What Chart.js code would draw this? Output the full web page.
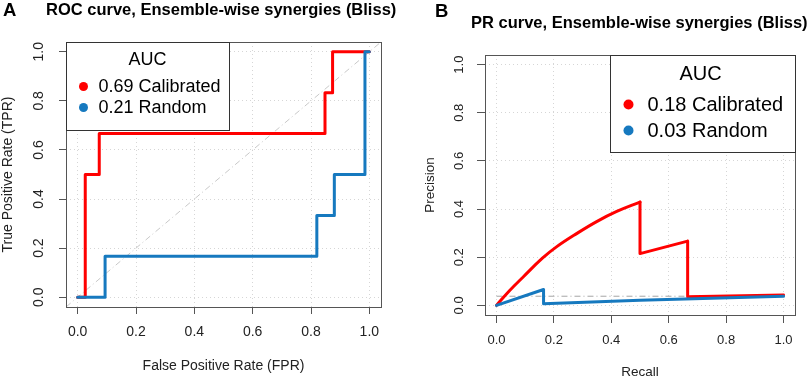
<!DOCTYPE html>
<html>
<head>
<meta charset="utf-8">
<script src="https://cdn.jsdelivr.net/npm/chart.js@4.4.1/dist/chart.umd.min.js"></script>
<style>
  html, body { margin: 0; padding: 0; background: #fff; }
  #wrap { position: relative; width: 809px; height: 380px; overflow: hidden; font-family: "Liberation Sans", Arial, sans-serif; color: #000; }
  canvas { position: absolute; top: 0; }
  .letter { position: absolute; font-weight: bold; font-size: 18.5px; line-height: 19px; }
  .title { position: absolute; font-weight: bold; font-size: 16.5px; line-height: 19px; white-space: nowrap; }
</style>
</head>
<body>
<div id="wrap">
  <canvas id="rocChart" width="405" height="380" style="left:0"></canvas>
  <canvas id="prChart" width="404" height="380" style="left:405px"></canvas>
  <div class="letter" style="left:3px;top:0">A</div>
  <div class="title" style="left:46px;top:0">ROC curve, Ensemble-wise synergies (Bliss)</div>
  <div class="letter" style="left:435px;top:1px">B</div>
  <div class="title" style="left:471px;top:13px">PR curve, Ensemble-wise synergies (Bliss)</div>
</div>
<script>
const FONT = '"Liberation Sans", Arial, sans-serif';
const RED = '#FF0000';
const BLUE = '#1679BF';

// axis ticks (same on both panels)
const tickValues = [0, 0.2, 0.4, 0.6, 0.8, 1.0];
const axisMin = -0.04;
const axisMax = 1.04;

// ROC curve, calibrated
const rocCalFpr = [0, 0.026, 0.026, 0.074, 0.074, 0.848, 0.848, 0.874, 0.874, 1.0];
const rocCalTpr = [0, 0, 0.5, 0.5, 0.667, 0.667, 0.833, 0.833, 1.0, 1.0];
// ROC curve, random
const rocRandFpr = [0, 0.094, 0.094, 0.82, 0.82, 0.88, 0.88, 0.985, 0.985, 1.0];
const rocRandTpr = [0, 0, 0.167, 0.167, 0.333, 0.333, 0.5, 0.5, 1.0, 1.0];
// diagonal reference
const rocDiagX = [-0.04, 1.04];
const rocDiagY = [-0.04, 1.04];

// PR curve, calibrated (curved part, then straight part)
const prCalCurveRecall = [0, 0.046, 0.093, 0.160, 0.209, 0.279, 0.349, 0.419, 0.5];
const prCalCurvePrecision = [0, 0.062, 0.118, 0.196, 0.243, 0.298, 0.348, 0.390, 0.429];
const prCalRestRecall = [0.5, 0.5, 0.666, 0.666, 1.0];
const prCalRestPrecision = [0.429, 0.215, 0.267, 0.036, 0.043];
// PR curve, random
const prRandRecall = [0, 0.164, 0.164, 0.5, 1.0];
const prRandPrecision = [0, 0.066, 0.007, 0.021, 0.038];
// baseline reference
const prBaseX = [0, 1.0];
const prBaseY = [0.038, 0.038];

// legend texts
const legendTitle = 'AUC';
const rocLegendLabels = ['0.69 Calibrated', '0.21 Random'];
const prLegendLabels = ['0.18 Calibrated', '0.03 Random'];
const legendColors = [RED, BLUE];

function pts(xs, ys) {
    return xs.map((x, i) => ({ x: x, y: ys[i] }));
}

function line(xs, ys, color, width, order, extra) {
    return Object.assign({
        data: pts(xs, ys),
        showLine: true,
        borderColor: color,
        backgroundColor: color,
        borderWidth: width,
        pointRadius: 0,
        pointHoverRadius: 0,
        borderCapStyle: 'round',
        borderJoinStyle: 'round',
        tension: 0,
        order: order
    }, extra || {});
}

// R-like box around the plot plus the AUC legend
const boxAndLegend = {
    id: 'boxAndLegend',
    afterDatasetsDraw(chart, args, opts) {
        const { ctx, chartArea: a } = chart;
        ctx.save();
        ctx.strokeStyle = '#555';
        ctx.lineWidth = 1;
        ctx.strokeRect(Math.round(a.left) + 0.5, Math.round(a.top) + 0.5,
            Math.round(a.right - a.left), Math.round(a.bottom - a.top));

        const x0 = Math.round(opts.side === 'left' ? a.left : a.right - opts.w) + 0.5;
        const y0 = Math.round(a.top) + 0.5;
        ctx.fillStyle = '#fff';
        ctx.fillRect(x0, y0, opts.w, opts.h);
        ctx.strokeStyle = '#333';
        ctx.strokeRect(x0, y0, opts.w, opts.h);

        ctx.font = opts.size + 'px ' + FONT;
        ctx.textBaseline = 'middle';
        ctx.textAlign = 'center';
        ctx.fillStyle = '#000';
        ctx.fillText(legendTitle, x0 + opts.titleX, y0 + opts.titleY);
        ctx.textAlign = 'left';
        opts.labels.forEach((txt, i) => {
            ctx.fillStyle = legendColors[i];
            ctx.beginPath();
            ctx.arc(x0 + opts.dotX, y0 + opts.rowY[i], opts.dotR, 0, Math.PI * 2);
            ctx.fill();
            ctx.fillStyle = '#000';
            ctx.fillText(txt, x0 + opts.textX, y0 + opts.rowY[i] + 1);
        });
        ctx.restore();
    }
};

function axis(o) {
    return {
        type: 'linear',
        min: axisMin,
        max: axisMax,
        afterBuildTicks: (s) => { s.ticks = tickValues.map(v => ({ value: v })); },
        afterFit: (s) => {
            if (s.isHorizontal()) s.height = o.size; else s.width = o.size;
        },
        ticks: {
            callback: (v) => Number(v).toFixed(1),
            font: { family: FONT, size: o.tickFont },
            color: '#222',
            padding: o.pad,
            minRotation: o.rot,
            maxRotation: o.rot,
            crossAlign: o.rot ? 'center' : 'near'
        },
        grid: {
            color: '#D6D6D6',
            lineWidth: 1,
            tickLength: o.tl,
            tickColor: '#555',
            tickWidth: 1,
            tickBorderDash: []
        },
        border: { display: false, dash: [1, 3] },
        title: {
            display: true,
            text: o.title,
            color: '#222',
            font: { family: FONT, size: o.titleFont },
            padding: o.titlePad
        }
    };
}

function baseOptions(padding, scales, legendOpts) {
    return {
        responsive: false,
        animation: false,
        events: [],
        layout: { padding: padding },
        scales: scales,
        plugins: {
            legend: { display: false },
            tooltip: { enabled: false },
            title: { display: false },
            boxAndLegend: legendOpts
        }
    };
}

new Chart(document.getElementById('rocChart'), {
    type: 'scatter',
    data: {
        datasets: [
            line(rocRandFpr, rocRandTpr, BLUE, 3, 0),
            line(rocCalFpr, rocCalTpr, RED, 3, 1),
            line(rocDiagX, rocDiagY, '#C8C8C8', 1, 2, { borderDash: [6, 3, 1, 3], borderCapStyle: 'butt' })
        ]
    },
    options: baseOptions(
        { left: 0, right: 24, top: 42, bottom: 0 },
        {
            x: axis({ size: 73, tickFont: 14, pad: 10, rot: 0, tl: 7, title: 'False Positive Rate (FPR)', titleFont: 14, titlePad: { top: 0, bottom: 5 } }),
            y: axis({ size: 66, tickFont: 14, pad: 10, rot: 90, tl: 7, title: 'True Positive Rate (TPR)', titleFont: 14, titlePad: { top: 0, bottom: 0 } })
        },
        { side: 'left', w: 163, h: 88, size: 18, titleX: 81, titleY: 18, dotX: 17, dotR: 4.5, textX: 32, rowY: [44, 65], labels: rocLegendLabels }
    ),
    plugins: [boxAndLegend]
});

new Chart(document.getElementById('prChart'), {
    type: 'scatter',
    data: {
        datasets: [
            line(prRandRecall, prRandPrecision, BLUE, 3, 0),
            line(prCalCurveRecall, prCalCurvePrecision, RED, 3, 1, { tension: 0.4 }),
            line(prCalRestRecall, prCalRestPrecision, RED, 3, 1),
            line(prBaseX, prBaseY, '#A6A6A6', 1, 2, { borderDash: [6, 3, 1, 3], borderCapStyle: 'butt' })
        ]
    },
    options: baseOptions(
        { left: 0, right: 14, top: 55, bottom: 0 },
        {
            x: axis({ size: 65, tickFont: 13, pad: 10, rot: 0, tl: 8, title: 'Recall', titleFont: 13.5, titlePad: { top: 0, bottom: 0 } }),
            y: axis({ size: 80, tickFont: 13, pad: 9, rot: 90, tl: 8, title: 'Precision', titleFont: 13.5, titlePad: { top: 17, bottom: 0 } })
        },
        { side: 'right', w: 185, h: 97, size: 20, titleX: 90, titleY: 19, dotX: 18, dotR: 5, textX: 37, rowY: [49, 75], labels: prLegendLabels }
    ),
    plugins: [boxAndLegend]
});
</script>
</body>
</html>
